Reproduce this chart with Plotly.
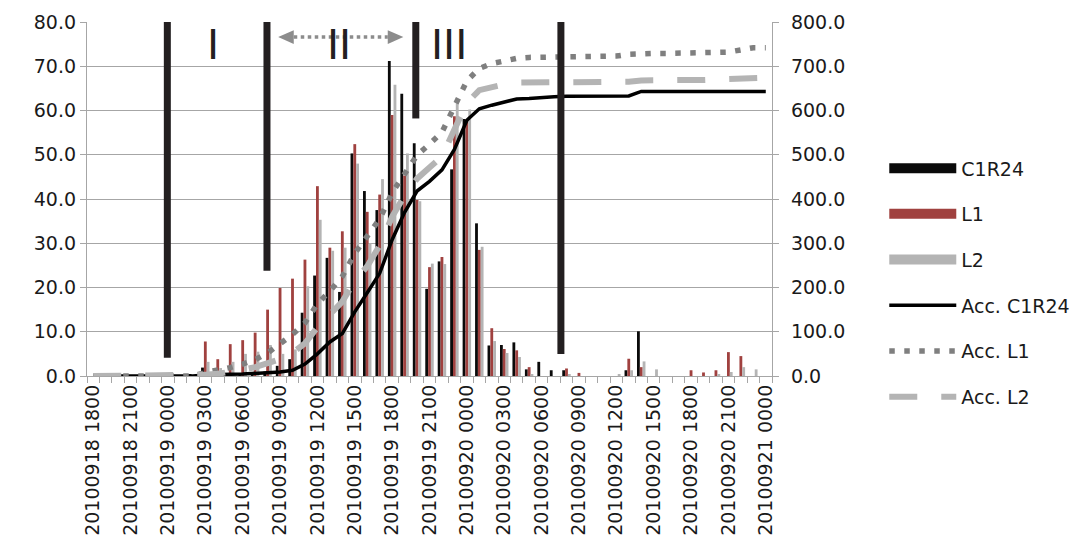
import plotly.graph_objects as go
import pandas as pd

# ---------------- data ----------------
times = pd.date_range("2010-09-18 18:00", periods=55, freq="h")
categories = [t.strftime("%Y%m%d %H%M") for t in times]
tick_labels = [c if i % 3 == 0 else "" for i, c in enumerate(categories)]

c1r24 = [0, 0, 0, 0, 0, 0, 0, 0, 0.3,
         1.9, 1.5, 0.5, 0.5, 0.8, 1.0, 2.3, 3.8, 14.3, 22.7,
         26.7, 19.0, 50.3, 41.8, 37.5, 71.2, 63.8, 52.6, 19.7, 25.9,
         46.7, 58.1, 34.5, 6.9, 7.0, 7.6, 1.5, 3.2, 1.3, 1.3,
         0, 0, 0, 0, 1.3, 10.1, 0, 0, 0, 0,
         0, 0, 0, 0, 0, 0]
l1 = [0, 0, 0, 0, 0, 0, 0, 0, 0,
      7.8, 3.8, 7.2, 8.1, 9.8, 15.0, 19.9, 22.0, 26.3, 42.9,
      29.0, 32.7, 52.4, 37.1, 41.0, 59.0, 45.3, 39.8, 24.6, 26.9,
      58.7, 58.0, 28.5, 10.8, 6.1, 5.8, 2.0, 0, 0, 1.7,
      0.7, 0, 0, 0, 3.9, 2.0, 0, 0, 0, 1.3,
      0.8, 1.3, 5.4, 4.5, 0, 0][:55]
l2 = [0, 0, 0, 0, 0, 0, 0, 0, 0,
      3.2, 1.8, 3.2, 5.0, 5.5, 7.0, 5.0, 6.0, 20.3, 35.3,
      28.3, 29.0, 48.0, 30.0, 44.5, 65.8, 50.3, 39.5, 25.4, 25.3,
      62.0, 60.2, 29.2, 7.9, 5.2, 4.3, 0.3, 0, 0, 0.3,
      0, 0, 0, 0.4, 1.3, 3.3, 1.5, 0, 0, 0,
      0, 0.3, 0.9, 2.0, 1.5, 0][:55]

acc_c1r24 = [0, 0, 0, 0, 0, 0, 0, 0, 0,
             2, 3.5, 4, 4.5, 5.5, 6.5, 9, 13, 27, 50,
             77, 96, 145, 188, 232, 308, 370, 418, 440, 466,
             512, 578, 604, 612, 619, 626, 627, 630, 631, 632,
             632, 632, 632, 632, 633, 643, 643, 643, 643, 643,
             643, 643, 643, 643, 643, 643][:55]
acc_l1 = [0, 0, 0, 0, 0, 0, 0, 0, 0,
          8, 12, 19, 27, 37, 52, 72, 94, 120, 163,
          192, 225, 277, 314, 355, 414, 459, 499, 524, 551,
          609, 667, 695, 706, 712, 718, 720, 720, 720, 722,
          723, 723, 723, 723, 727, 729, 729, 729, 729, 729,
          730, 731, 732, 737, 742, 742][:55]
acc_l2 = [0, 0, 0, 0, 0, 0, 0, 0, 0,
          3, 5, 8, 14, 20, 28, 38, 52, 74, 110,
          139, 168, 215, 248, 295, 360, 408, 446, 471, 496,
          557, 617, 646, 654, 659, 663, 663, 663, 663, 664,
          664, 664, 664, 664, 665, 668, 669, 669, 669, 669,
          669, 670, 671, 673, 674, 674][:55]

# phase markers (category-index positions, left-axis units)
phase_x = [5.95, 13.95, 25.9, 37.55]
phase_bottom = [4.1, 23.8, 58.2, 5.0]
phase_top = [80, 80, 80, 80]
phase_labels = ["I", "II", "III"]
phase_label_x = [9.6, 19.77, 28.6]
phase_label_y = 74.9
arrow_span = [14.85, 24.9]
arrow_y = 76.6

# ---------------- styles ----------------
FONT = "DejaVu Sans"
TXT = "#1a1a1a"
GRID = "#a6a6a6"
C_BLACK = "#0a0a0a"
C_RED = "#a0413f"
C_GRAY = "#b4b4b4"
MARK = "#231f20"
ARROW = "#8c8c8c"

fig = go.Figure()

# legend entries for bars (wide rectangles like the original)
legend_bars = [("C1R24", C_BLACK), ("L1", C_RED), ("L2", C_GRAY)]
for name, col in legend_bars:
    fig.add_trace(go.Scatter(x=[None], y=[None], mode="lines", name=name,
                             legendgroup=name, line=dict(color=col, width=14),
                             hoverinfo="skip"))

for name, vals, col in [("C1R24", c1r24, C_BLACK), ("L1", l1, C_RED), ("L2", l2, C_GRAY)]:
    fig.add_trace(go.Bar(x=categories, y=vals, name=name, legendgroup=name,
                         showlegend=False, marker=dict(color=col, line=dict(width=0))))

fig.add_trace(go.Scatter(x=categories, y=acc_c1r24, name="Acc. C1R24", legendgroup="accc",
                         yaxis="y2", mode="lines",
                         line=dict(color="#000000", width=3.5)))
fig.add_trace(go.Scatter(x=categories, y=acc_l1, name="Acc. L1", legendgroup="accl1",
                         yaxis="y2", mode="lines",
                         line=dict(color="#7f7f7f", width=5.5, dash="5.5px,9.5px")))
fig.add_trace(go.Scatter(x=categories, y=acc_l2, name="Acc. L2", legendgroup="accl2",
                         yaxis="y2", mode="lines",
                         line=dict(color=C_GRAY, width=6, dash="28px,24px")))

shapes = []
for xp, yb, yt in zip(phase_x, phase_bottom, phase_top):
    shapes.append(dict(type="line", xref="x", yref="y", x0=xp, x1=xp, y0=yb, y1=yt,
                       line=dict(color=MARK, width=7), layer="above"))
# dotted double arrow
head_len = 1.25
head_half = 1.55
xl, xr = arrow_span
shapes.append(dict(type="line", xref="x", yref="y",
                   x0=xl + head_len, x1=xr - head_len,
                   y0=arrow_y, y1=arrow_y,
                   line=dict(color=ARROW, width=3.5, dash="3.5px,3.5px"), layer="above"))
shapes.append(dict(type="path", xref="x", yref="y",
                   path=f"M {xl} {arrow_y} L {xl + head_len} {arrow_y + head_half} L {xl + head_len} {arrow_y - head_half} Z",
                   fillcolor=ARROW, line=dict(width=0), layer="above"))
shapes.append(dict(type="path", xref="x", yref="y",
                   path=f"M {xr} {arrow_y} L {xr - head_len} {arrow_y + head_half} L {xr - head_len} {arrow_y - head_half} Z",
                   fillcolor=ARROW, line=dict(width=0), layer="above"))

annotations = []
for txt, xp in zip(phase_labels, phase_label_x):
    annotations.append(dict(x=xp, y=phase_label_y, xref="x", yref="y", text=txt,
                            showarrow=False, font=dict(family=FONT, size=41, color=MARK),
                            xanchor="center", yanchor="middle"))

fig.update_layout(
    width=1085, height=553,
    margin=dict(l=87, r=313, t=22, b=177),
    paper_bgcolor="white", plot_bgcolor="white",
    barmode="group", bargap=0.32, bargroupgap=0,
    font=dict(family=FONT, size=19, color=TXT),
    shapes=shapes, annotations=annotations,
    showlegend=True,
    legend=dict(xref="container", yref="container", x=0.815, y=0.73,
                xanchor="left", yanchor="top", maxheight=520,
                font=dict(family=FONT, size=19, color=TXT),
                itemwidth=67, tracegroupgap=18, bgcolor="rgba(0,0,0,0)"),
    xaxis=dict(type="category", tickmode="array", tickvals=categories, ticktext=tick_labels,
               tickson="boundaries", ticks="outside", ticklen=6, tickcolor=GRID,
               tickangle=-90, showline=True, linecolor=GRID, linewidth=1.3,
               showgrid=False, range=[-0.5, 54.5],
               tickfont=dict(family=FONT, size=19, color=TXT)),
    yaxis=dict(range=[0, 80], dtick=10, tickformat=".1f", showgrid=True,
               gridcolor=GRID, gridwidth=1.3, showline=True, linecolor=GRID, linewidth=1.3,
               ticks="outside", ticklen=6, tickcolor=GRID, zeroline=False,
               tickfont=dict(family=FONT, size=19, color=TXT)),
    yaxis2=dict(range=[0, 800], dtick=100, tickformat=".1f", overlaying="y", side="right",
                showgrid=False, showline=True, linecolor=GRID, linewidth=1.3,
                ticks="outside", ticklen=6, tickcolor=GRID, zeroline=False,
                ticklabelstandoff=8,
                tickfont=dict(family=FONT, size=19, color=TXT)),
)

fig.write_html("out.html")
